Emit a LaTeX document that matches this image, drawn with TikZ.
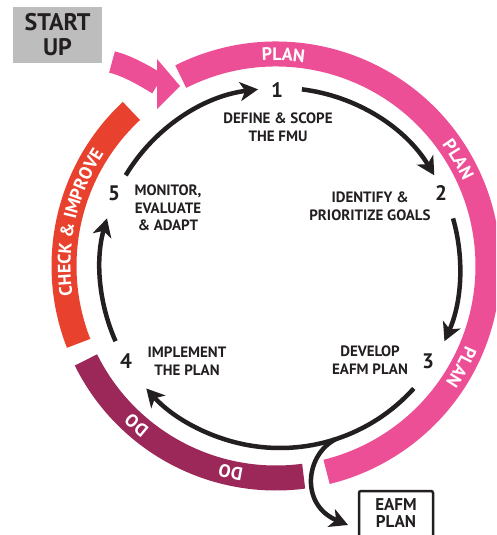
\documentclass[tikz,border=0pt]{standalone}
\usepackage{fontspec}
\setmainfont{PT Sans}
\usetikzlibrary{arrows.meta,calc,decorations.text}
\definecolor{plan}{HTML}{EC4F96}
\definecolor{check}{HTML}{E8422F}
\definecolor{doc}{HTML}{9C2759}
\definecolor{startg}{HTML}{BDBDBD}
\definecolor{txt}{HTML}{231F20}
\newcommand{\bandfont}{\bfseries\fontsize{18}{18}\selectfont}
\begin{document}
\begin{tikzpicture}[x=1pt,y=1pt,
  band/.style={line width=25pt},
  bandtext/.style={decorate, decoration={text along path, text align=center, text color=white, text={|\bandfont|#1}}},
  cyc/.style={line width=4.5pt, draw=txt, -{Stealth[length=18pt,width=19pt,inset=5pt]}},
  lbl/.style={font=\bfseries\fontsize{15}{17.5}\selectfont, align=center, text=txt, inner sep=0pt},
  num/.style={font=\bfseries\fontsize{21}{21}\selectfont, text=txt, inner sep=0pt},
]
\useasboundingbox (0,0) rectangle (496,-535);
\clip (0,0) rectangle (496,-535);
\coordinate (O) at (276,-266);
\coordinate (I) at (280,-268);
% outer bands
\draw[band,plan] ($(O)+(116.7:212pt)$) arc[start angle=116.7,end angle=-76.2,radius=212pt];
\draw[band,check] ($(O)+(133:212pt)$) arc[start angle=133,end angle=201.4,radius=212pt];
\draw[band,doc] ($(O)+(206.3:212pt)$) arc[start angle=206.3,end angle=277.5,radius=212pt];
% band texts (clockwise, letters pointing outward)
\path[bandtext={PLAN}] ($(O)+(113:205.5pt)$) arc[start angle=113,end angle=63,radius=205.5pt];
\path[bandtext={PLAN}] ($(O)+(55.3:205.5pt)$) arc[start angle=55.3,end angle=5.3,radius=205.5pt];
\path[bandtext={PLAN}] ($(O)+(-3.6:205.5pt)$) arc[start angle=-3.6,end angle=-53.6,radius=205.5pt];
\path[bandtext={CHECK {\&} IMPROVE}] ($(O)+(197.5:205.5pt)$) arc[start angle=197.5,end angle=137.5,radius=205.5pt];
\path[bandtext={DO}] ($(O)+(248.8:205.5pt)$) arc[start angle=248.8,end angle=208.8,radius=205.5pt];
\path[bandtext={DO}] ($(O)+(277.6:205.5pt)$) arc[start angle=277.6,end angle=237.6,radius=205.5pt];
% start up
\node[fill=startg, minimum width=89pt, minimum height=56pt, align=center,
  font=\bfseries\fontsize{24}{25}\selectfont, text=txt, inner sep=0pt] (start) at (57.5,-35) {START\\UP};
% entry arrow
\coordinate (e0) at (112,-62);
\coordinate (e1) at (158,-84);
\draw[plan, line width=22pt] (e0) .. controls (128,-66) and (145,-76) .. (e1);
\fill[plan] (157,-59) -- (180,-86) -- (157,-109) -- cycle;
% numbers
\node[num] (n1) at (277,-90) {1};
\node[num] (n2) at (441,-193) {2};
\node[num] (n3) at (428,-361) {3};
\node[num] (n4) at (126,-361) {4};
\node[num] (n5) at (114,-193) {5};
% labels
\node[lbl] (l1) at (278,-127) {DEFINE \& SCOPE\\THE FMU};
\node[lbl] (l2) at (370,-206) {IDENTIFY \&\\PRIORITIZE GOALS};
\node[lbl] (l3) at (370,-360) {DEVELOP\\EAFM PLAN};
\node[lbl] (l4) at (187,-361) {IMPLEMENT\\THE PLAN};
\node[lbl] (l5) at (168,-208) {MONITOR,\\EVALUATE\\\& ADAPT};
% cycle arrows
\coordinate (s5) at ($(I)+(149:180pt)$);
\coordinate (s1) at ($(I)+(83:180pt)$);
\coordinate (s2) at ($(I)+(16:180pt)$);
\coordinate (s3) at ($(I)+(-42:180pt)$);
\coordinate (s4) at ($(I)+(204:180pt)$);
\coordinate (b0) at ($(I)+(-72:180pt)$);
\draw[cyc] (s5) arc[start angle=149,end angle=97,radius=180pt];
\draw[cyc] (s1) arc[start angle=83,end angle=31,radius=180pt];
\draw[cyc] (s2) arc[start angle=16,end angle=-24,radius=180pt];
\draw[cyc] (s3) arc[start angle=-42,end angle=-138,radius=180pt];
\draw[cyc] (s4) arc[start angle=204,end angle=164,radius=180pt];
% output
\node[font=\bfseries\fontsize{17}{17}\selectfont, text=txt, align=center, inner sep=0pt] (eafm) at (396,-513) {EAFM\\[-0.5pt]PLAN};
\draw[draw=txt, line width=2.5pt, rounded corners=2pt] (359,-491) rectangle (433,-560);
\coordinate (et) at (348,-525);
\draw[cyc] (b0) .. controls (305,-455) and (300,-505) .. (et);
\end{tikzpicture}
\end{document}
